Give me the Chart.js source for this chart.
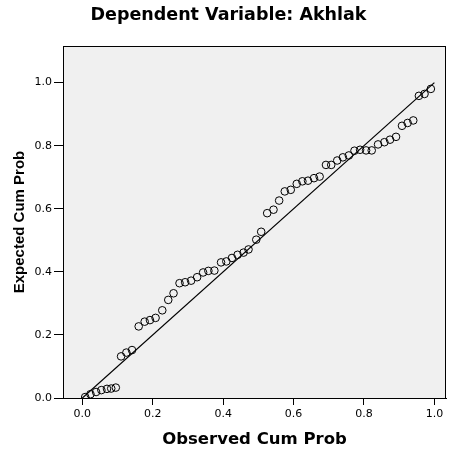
<!DOCTYPE html>
<html>
<head>
<meta charset="utf-8">
<script src="https://cdn.jsdelivr.net/npm/chart.js@4/dist/chart.umd.min.js"></script>
<style>
  html, body { margin: 0; padding: 0; background: #ffffff; }
  #wrap { width: 451px; height: 450px; }
</style>
</head>
<body>
<div id="wrap"><canvas id="c" width="451" height="450"></canvas></div>
<script>
// ---- data ----
const chartTitle = 'Dependent Variable: Akhlak';
const xAxisTitle = 'Observed Cum Prob';
const yAxisTitle = 'Expected Cum Prob';

const observedCumProb = [0.008,0.023,0.039,0.054,0.070,0.082,0.095,0.110,0.125,0.141,
  0.160,0.177,0.192,0.208,0.227,0.244,0.259,0.276,0.292,0.309,
  0.326,0.343,0.358,0.375,0.394,0.409,0.425,0.441,0.458,0.472,
  0.494,0.508,0.525,0.543,0.559,0.575,0.592,0.609,0.625,0.641,
  0.658,0.674,0.692,0.707,0.724,0.740,0.757,0.773,0.789,0.806,
  0.822,0.840,0.858,0.874,0.891,0.908,0.924,0.940,0.956,0.972,0.990];

const expectedCumProb = [0.003,0.012,0.019,0.025,0.029,0.030,0.033,0.132,0.144,0.152,
  0.227,0.242,0.247,0.254,0.278,0.311,0.332,0.364,0.367,0.372,
  0.383,0.398,0.403,0.404,0.430,0.433,0.444,0.454,0.461,0.471,
  0.502,0.527,0.586,0.597,0.626,0.655,0.660,0.679,0.687,0.689,
  0.697,0.702,0.739,0.739,0.753,0.763,0.769,0.784,0.787,0.785,
  0.785,0.804,0.811,0.819,0.828,0.863,0.872,0.880,0.958,0.964,0.980];

const refLineX = [0, 1];
const refLineY = [0, 1];

const tickValues = [0, 0.2, 0.4, 0.6, 0.8, 1.0];
const tickLabels = ['0.0', '0.2', '0.4', '0.6', '0.8', '1.0'];

// ---- chart ----
const points = observedCumProb.map((x, i) => ({ x: x, y: expectedCumProb[i] }));
const line = refLineX.map((x, i) => ({ x: x, y: refLineY[i] }));

const plotBg = {
  id: 'plotBg',
  beforeDraw(chart) {
    const { ctx, chartArea: a } = chart;
    ctx.save();
    ctx.fillStyle = '#f0f0f0';
    ctx.fillRect(a.left, a.top, a.right - a.left, a.bottom - a.top);
    ctx.restore();
  },
  afterDraw(chart) {
    const { ctx, chartArea: a } = chart;
    ctx.save();
    ctx.strokeStyle = '#000000';
    ctx.lineWidth = 1;
    ctx.strokeRect(Math.round(a.left) + 0.5, Math.round(a.top) + 0.5,
                   Math.round(a.right - a.left) - 1, Math.round(a.bottom - a.top));
    ctx.restore();
  }
};

function fixedTicks(scale) {
  scale.ticks = tickValues.map(v => ({ value: v }));
}

new Chart(document.getElementById('c'), {
  type: 'scatter',
  data: {
    datasets: [
      {
        label: 'Reference',
        type: 'line',
        data: line,
        borderColor: '#000000',
        borderWidth: 1.2,
        pointRadius: 0,
        fill: false,
        tension: 0,
        order: 2
      },
      {
        label: 'Cases',
        data: points,
        pointStyle: 'circle',
        pointRadius: 3.8,
        pointBorderWidth: 1,
        pointBorderColor: '#000000',
        pointBackgroundColor: 'rgba(0,0,0,0)',
        order: 1
      }
    ]
  },
  options: {
    responsive: false,
    animation: false,
    devicePixelRatio: 1,
    layout: { padding: { left: 8, right: 2, top: 0, bottom: 0 } },
    plugins: {
      legend: { display: false },
      tooltip: { enabled: false },
      title: {
        display: true,
        text: chartTitle,
        color: '#000000',
        font: { family: 'DejaVu Sans', size: 17.5, weight: 'bold' },
        padding: { top: 4.5, bottom: 20.5 }
      }
    },
    scales: {
      x: {
        type: 'linear',
        min: -0.055,
        max: 1.033,
        afterBuildTicks: fixedTicks,
        afterFit(scale) { scale.height = 52; },
        ticks: {
          color: '#000000',
          font: { family: 'DejaVu Sans', size: 11 },
          padding: 3,
          maxRotation: 0,
          callback: (v, i) => tickLabels[i]
        },
        grid: { drawOnChartArea: false, drawTicks: true, tickLength: 7, color: '#000000' },
        border: { display: true, color: '#000000', width: 1 },
        title: {
          display: true,
          text: xAxisTitle,
          color: '#000000',
          font: { family: 'DejaVu Sans', size: 16.5, weight: 'bold' },
          padding: { top: 0, bottom: 0 }
        }
      },
      y: {
        type: 'linear',
        min: 0,
        max: 1.116,
        afterBuildTicks: fixedTicks,
        afterFit(scale) { scale.width = 55; },
        ticks: {
          color: '#000000',
          font: { family: 'DejaVu Sans', size: 11 },
          padding: 2,
          callback: (v, i) => tickLabels[i]
        },
        grid: { drawOnChartArea: false, drawTicks: true, tickLength: 9, color: '#000000' },
        border: { display: true, color: '#000000', width: 1 },
        title: {
          display: true,
          text: yAxisTitle,
          color: '#000000',
          font: { family: 'Liberation Sans', size: 15, weight: 'bold' },
          padding: { top: 3, bottom: 0 }
        }
      }
    }
  },
  plugins: [plotBg]
});
</script>
</body>
</html>
